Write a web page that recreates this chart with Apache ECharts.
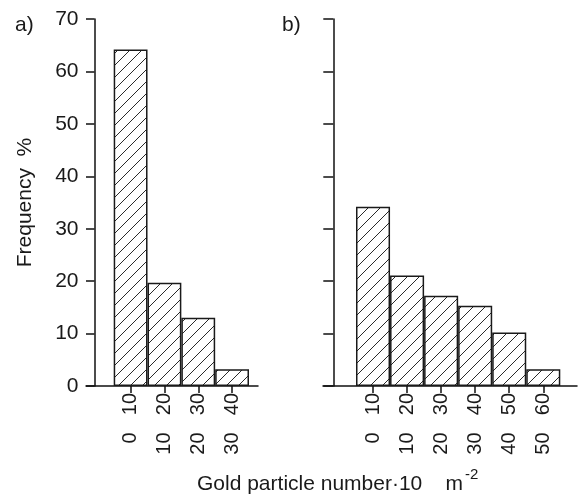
<!DOCTYPE html>
<html>
<head>
<meta charset="utf-8">
<script src="https://cdn.jsdelivr.net/npm/echarts@6/dist/echarts.min.js"></script>
<style>
html,body{margin:0;padding:0;background:#fff;}
#c{width:578px;height:497px;}
</style>
</head>
<body>
<div id="c"></div>
<script>
// ---- data ----
const yTicks = [0, 10, 20, 30, 40, 50, 60, 70];
const catsA_upper = ['10', '20', '30', '40'];
const catsA_lower = ['0', '10', '20', '30'];
const valuesA = [64.2, 19.7, 13, 3.2];
const catsB_upper = ['10', '20', '30', '40', '50', '60'];
const catsB_lower = ['0', '10', '20', '30', '40', '50'];
const valuesB = [34.2, 21.1, 17.2, 15.3, 10.2, 3.2];
const panelLabels = ['a)', 'b)'];
const yName = 'Frequency  %';
const xName = 'Gold particle number\u00B710    m';
const xNameSup = '-2';

// ---- hatch pattern ----
function hatch() {
  const s = 12;
  const cv = document.createElement('canvas');
  cv.width = s; cv.height = s;
  const g = cv.getContext('2d');
  g.fillStyle = '#fff';
  g.fillRect(0, 0, s, s);
  g.strokeStyle = '#2a2a2a';
  g.lineWidth = 1;
  g.beginPath();
  g.moveTo(-1, s + 1); g.lineTo(s + 1, -1);
  g.moveTo(-1, 1); g.lineTo(1, -1);
  g.moveTo(s - 1, s + 1); g.lineTo(s + 1, s - 1);
  g.stroke();
  return cv;
}
const pat = { image: hatch(), repeat: 'repeat' };

const FONT = '"Liberation Sans", Arial, sans-serif';
const TXT = '#1a1a1a';
const LINE = { color: '#111', width: 1.5 };
const TOP = 19, H = 367;
const FS = 21;

const chart = echarts.init(document.getElementById('c'), null, { renderer: 'canvas' });

function baseX(grid) {
  return {
    gridIndex: grid, type: 'value', min: 0, max: 1,
    axisLine: { show: true, onZero: false, lineStyle: LINE },
    axisTick: { show: false }, axisLabel: { show: false }, splitLine: { show: false }
  };
}
function hiddenY(grid) {
  return { gridIndex: grid, type: 'value', min: 0, max: 70, show: false };
}
function catX(grid, data, offset, showTick) {
  return {
    gridIndex: grid, type: 'category', data: data, position: 'bottom', offset: offset,
    axisLine: { show: false },
    axisTick: { show: showTick, alignWithLabel: true, length: 7, lineStyle: LINE },
    axisLabel: { rotate: 90, margin: 7, fontSize: 20, fontFamily: FONT, color: TXT, interval: 0 },
    splitLine: { show: false }
  };
}
function mainY(grid, offset, tickLen, showLabels, name) {
  return {
    gridIndex: grid, type: 'value', min: yTicks[0], max: yTicks[yTicks.length - 1], interval: 10,
    offset: offset,
    name: name, nameLocation: 'middle', nameGap: 59, nameRotate: 90,
    nameTextStyle: { fontSize: FS, fontFamily: FONT, color: TXT },
    axisLine: { show: true, lineStyle: LINE },
    axisTick: { show: true, length: tickLen, lineStyle: LINE },
    axisLabel: { show: showLabels, margin: 16, fontSize: FS, fontFamily: FONT, color: TXT },
    splitLine: { show: false }
  };
}

const option = {
  animation: false,
  backgroundColor: '#fff',
  title: [
    { text: panelLabels[0], left: 10, top: 10, textStyle: { fontSize: FS, fontWeight: 'normal', fontFamily: FONT, color: TXT } },
    { text: panelLabels[1], left: 277, top: 10, textStyle: { fontSize: FS, fontWeight: 'normal', fontFamily: FONT, color: TXT } },
    {
      text: '{t|' + xName + '}{s|' + xNameSup + '}', left: 192, top: 462,
      textStyle: {
        fontSize: FS, fontWeight: 'normal', fontFamily: FONT, color: TXT,
        rich: {
          t: { fontSize: FS, fontFamily: FONT, color: TXT, verticalAlign: 'bottom' },
          s: { fontSize: 15, fontFamily: FONT, color: TXT, verticalAlign: 'bottom', padding: [0, 0, 13, 2] }
        }
      }
    }
  ],
  grid: [
    { left: 86, width: 172, top: TOP, height: H },
    { left: 113.7, width: 135.3, top: TOP, height: H },
    { left: 323, width: 254, top: TOP, height: H },
    { left: 356, width: 204.3, top: TOP, height: H }
  ],
  xAxis: [
    baseX(0),
    catX(1, catsA_upper, 0, true),
    catX(1, catsA_lower, 39.5, false),
    baseX(2),
    catX(3, catsB_upper, 0, true),
    catX(3, catsB_lower, 39.5, false)
  ],
  yAxis: [
    hiddenY(0),
    mainY(1, 19.2, 8.5, true, yName),
    hiddenY(2),
    mainY(3, 22.7, 10, false, '')
  ],
  series: [
    {
      type: 'bar', xAxisIndex: 1, yAxisIndex: 1, data: valuesA,
      barWidth: '100%', barCategoryGap: 0,
      itemStyle: { color: pat, borderColor: '#1a1a1a', borderWidth: 1.5 }
    },
    {
      type: 'bar', xAxisIndex: 4, yAxisIndex: 3, data: valuesB,
      barWidth: '100%', barCategoryGap: 0,
      itemStyle: { color: pat, borderColor: '#1a1a1a', borderWidth: 1.5 }
    }
  ]
};
chart.setOption(option);
</script>
</body>
</html>
